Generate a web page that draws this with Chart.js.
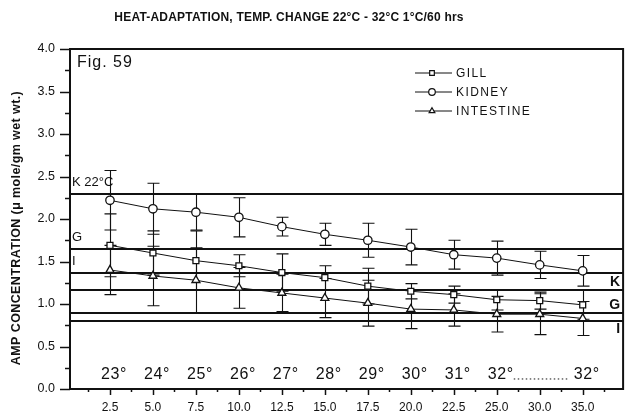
<!DOCTYPE html>
<html>
<head>
<meta charset="utf-8">
<script src="https://cdn.jsdelivr.net/npm/chart.js@4.4.1/dist/chart.umd.min.js"></script>
<style>
  html, body { margin: 0; padding: 0; background: #fff; }
  #wrap { width: 629px; height: 416px; }
</style>
</head>
<body>
<div id="wrap"><canvas id="c" width="629" height="416"></canvas></div>
<script>
// Time after start of heating (hrs), one position per sample
const hours = ['2.5', '5.0', '7.5', '10.0', '12.5', '15.0', '17.5', '20.0', '22.5', '25.0', '30.0', '35.0'];
// Water temperature reached at each sample
const temps = ['23°', '24°', '25°', '26°', '27°', '28°', '29°', '30°', '31°', '32°', '', '32°'];

// AMP concentration (µ mole/gm wet wt.) with ± error
const gill         = [1.69, 1.60, 1.51, 1.45, 1.37, 1.31, 1.21, 1.15, 1.11, 1.05, 1.04, 0.99];
const gillErr      = [0.37, 0.26, 0.35, 0.13, 0.22, 0.14, 0.21, 0.09, 0.10, 0.12, 0.10, 0.17];
const kidney       = [2.22, 2.12, 2.08, 2.02, 1.91, 1.82, 1.75, 1.67, 1.58, 1.54, 1.46, 1.39];
const kidneyErr    = [0.35, 0.30, 0.21, 0.23, 0.11, 0.13, 0.20, 0.21, 0.17, 0.20, 0.16, 0.18];
const intestine    = [1.40, 1.33, 1.28, 1.19, 1.13, 1.07, 1.01, 0.94, 0.93, 0.88, 0.88, 0.83];
const intestineErr = [0.29, 0.35, 0.38, 0.24, 0.22, 0.23, 0.27, 0.23, 0.19, 0.21, 0.24, 0.20];

// Reference levels (22°C controls and final levels)
const refLevels = [2.30, 1.65, 1.37, 1.16, 0.89, 0.80];
const leftRefLabels  = [{ text: 'K 22°C', v: 2.30 }, { text: 'G', v: 1.65 }, { text: 'I', v: 1.37 }];
const rightRefLabels = [{ text: 'K', v: 1.255 }, { text: 'G', v: 0.99 }, { text: 'I', v: 0.70 }];

const yTickValues = [0, 0.5, 1.0, 1.5, 2.0, 2.5, 3.0, 3.5, 4.0];

const FONT = '"Liberation Sans", Arial, Helvetica, sans-serif';
const INK = '#111';

const toPoints = arr => arr.map((v, i) => ({ x: i + 1, y: v }));

const series = [
  { label: 'GILL',      data: gill,      err: gillErr,      style: 'rect',     radius: 4.2 },
  { label: 'KIDNEY',    data: kidney,    err: kidneyErr,    style: 'circle',   radius: 4.2 },
  { label: 'INTESTINE', data: intestine, err: intestineErr, style: 'triangle', radius: 4.6 }
];

function spacedText(ctx, text, px, py, spacing) {
  ctx.letterSpacing = spacing + 'px';
  ctx.fillText(text, px, py);
  ctx.letterSpacing = '0px';
}

const figurePlugin = {
  id: 'figure',
  beforeDatasetsDraw(chart) {
    const { ctx, chartArea: a, scales: { x, y } } = chart;
    ctx.save();
    // horizontal reference levels
    ctx.strokeStyle = INK;
    ctx.lineWidth = 2;
    refLevels.forEach(v => {
      const py = Math.round(y.getPixelForValue(v));
      ctx.beginPath();
      ctx.moveTo(a.left, py);
      ctx.lineTo(a.right, py);
      ctx.stroke();
    });
    // error bars
    ctx.lineWidth = 1.1;
    series.forEach(s => {
      s.data.forEach((v, i) => {
        const px = Math.round(x.getPixelForValue(i + 1)) + 0.5;
        const top = y.getPixelForValue(v + s.err[i]);
        const bot = y.getPixelForValue(v - s.err[i]);
        ctx.beginPath();
        ctx.moveTo(px, top); ctx.lineTo(px, bot);
        ctx.moveTo(px - 6, top); ctx.lineTo(px + 6, top);
        ctx.moveTo(px - 6, bot); ctx.lineTo(px + 6, bot);
        ctx.stroke();
      });
    });
    ctx.restore();
  },
  afterDraw(chart) {
    const { ctx, chartArea: a, scales: { x, y } } = chart;
    ctx.save();
    ctx.fillStyle = INK;
    ctx.strokeStyle = INK;

    // frame
    ctx.lineWidth = 2;
    ctx.strokeRect(a.left, a.top, a.right - a.left, a.bottom - a.top);

    // y ticks (major every 0.5, minor every 0.25)
    ctx.lineWidth = 1.5;
    for (let k = 0; k <= 16; k++) {
      const py = Math.round(y.getPixelForValue(k * 0.25)) + 0.5;
      const len = k % 2 === 0 ? 10 : 5;
      ctx.beginPath();
      ctx.moveTo(a.left - len, py);
      ctx.lineTo(a.left, py);
      ctx.stroke();
    }
    // x ticks (major per sample, minor halfway)
    for (let k = 1; k <= 25; k++) {
      const v = k * 0.5;
      const px = Math.round(x.getPixelForValue(v)) + 0.5;
      const len = k % 2 === 0 ? 6 : 3;
      ctx.beginPath();
      ctx.moveTo(px, a.bottom);
      ctx.lineTo(px, a.bottom + len);
      ctx.stroke();
    }

    ctx.textBaseline = 'middle';

    // title
    ctx.font = 'bold 12px ' + FONT;
    ctx.textAlign = 'center';
    spacedText(ctx, 'HEAT-ADAPTATION, TEMP. CHANGE 22°C - 32°C 1°C/60 hrs', 289, 18, 0.2);

    // y-axis title
    ctx.save();
    ctx.translate(17, 228);
    ctx.rotate(-Math.PI / 2);
    ctx.font = 'bold 12.5px ' + FONT;
    spacedText(ctx, 'AMP CONCENTRATION (\u03bc mole/gm wet wt.)', 0, 0, 0.4);
    ctx.restore();

    // figure number
    ctx.font = '16px ' + FONT;
    ctx.textAlign = 'left';
    spacedText(ctx, 'Fig. 59', a.left + 7, a.top + 14, 1);

    // reference level labels
    ctx.font = '13px ' + FONT;
    leftRefLabels.forEach(l => {
      ctx.fillText(l.text, a.left + 2, y.getPixelForValue(l.v) - 11);
    });
    ctx.font = 'bold 14px ' + FONT;
    ctx.textAlign = 'right';
    rightRefLabels.forEach(l => {
      ctx.fillText(l.text, a.right - 3, y.getPixelForValue(l.v));
    });

    // temperature reached at each sample
    ctx.font = '16px ' + FONT;
    ctx.textAlign = 'center';
    const ty = y.getPixelForValue(0.165);
    temps.forEach((t, i) => {
      if (t) spacedText(ctx, t, x.getPixelForValue(i + 1) + 4, ty, 0.6);
    });
    // dotted span between the two 32° readings
    ctx.lineWidth = 1;
    ctx.setLineDash([1.5, 2.5]);
    ctx.beginPath();
    ctx.moveTo(x.getPixelForValue(10) + 17, ty + 4);
    ctx.lineTo(x.getPixelForValue(12) - 13, ty + 4);
    ctx.stroke();
    ctx.setLineDash([]);

    // legend
    ctx.font = '12px ' + FONT;
    ctx.textAlign = 'left';
    const lx0 = 415, lx1 = 452, lmx = 432;
    series.forEach((s, i) => {
      const ly = 73 + i * 19;
      ctx.strokeStyle = INK;
      ctx.lineWidth = 1;
      ctx.beginPath();
      ctx.moveTo(lx0, ly); ctx.lineTo(lx1, ly);
      ctx.stroke();
      ctx.fillStyle = '#fff';
      ctx.lineWidth = 1.2;
      Chart.helpers.drawPoint(ctx, { pointStyle: s.style, radius: 3.3, borderWidth: 1.2, rotation: 0 }, lmx, ly);
      ctx.fillStyle = INK;
      spacedText(ctx, s.label, lx1 + 4, ly + 0.5, 1.4);
    });
    ctx.restore();
  }
};

new Chart(document.getElementById('c'), {
  type: 'line',
  data: {
    datasets: series.map(s => ({
      label: s.label,
      data: toPoints(s.data),
      borderColor: INK,
      borderWidth: 1,
      pointStyle: s.style,
      pointRadius: s.radius,
      pointBackgroundColor: '#fff',
      pointBorderColor: INK,
      pointBorderWidth: 1.3,
      tension: 0
    }))
  },
  options: {
    responsive: false,
    animation: false,
    devicePixelRatio: 1,
    layout: { padding: { left: 0, top: 49, right: 2, bottom: 0 } },
    plugins: { legend: { display: false }, title: { display: false }, tooltip: { enabled: false } },
    scales: {
      x: {
        type: 'linear',
        min: 0.07,
        max: 12.94,
        afterFit: s => { s.height = 27; },
        afterBuildTicks: s => { s.ticks = hours.map((h, i) => ({ value: i + 1 })); },
        grid: { display: false, drawTicks: false },
        border: { display: true, color: INK, width: 2 },
        ticks: {
          autoSkip: false,
          maxRotation: 0,
          padding: 11,
          color: INK,
          font: { family: FONT, size: 12 },
          callback: v => hours[Math.round(v) - 1]
        }
      },
      y: {
        min: 0,
        max: 4,
        afterFit: s => { s.width = 70; },
        afterBuildTicks: s => { s.ticks = yTickValues.map(v => ({ value: v })); },
        grid: { display: false, drawTicks: false },
        border: { display: true, color: INK, width: 2 },
        ticks: {
          padding: 15,
          color: INK,
          font: { family: FONT, size: 12.5 },
          callback: v => Number(v).toFixed(1)
        }
      }
    }
  },
  plugins: [figurePlugin]
});
</script>
</body>
</html>
